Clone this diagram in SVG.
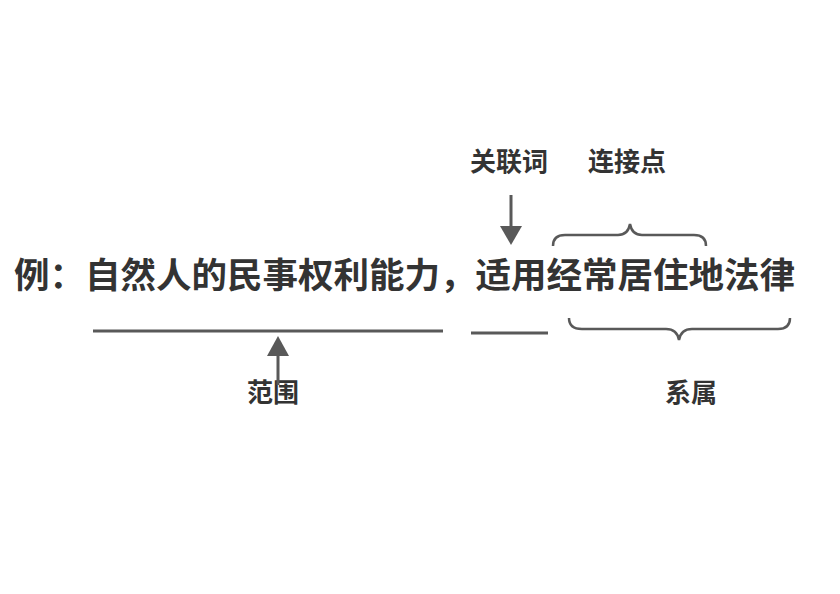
<svg xmlns="http://www.w3.org/2000/svg" width="840" height="594" viewBox="0 0 840 594">
<style>
text{font-family:"Noto Sans CJK SC","Noto Sans",sans-serif;font-weight:bold;fill:#333}
.l{stroke:#595959;stroke-width:3;fill:none}
.b{stroke:#595959;stroke-width:2.5;fill:none}
</style>
<defs><marker id="a" markerWidth="8" markerHeight="8" refX="4" refY="4" orient="auto" markerUnits="userSpaceOnUse" viewBox="0 0 8 8"><path d="M0,0L8,4L0,8z" fill="#595959"/></marker></defs>
<rect width="840" height="594" fill="#fff"/>
<g id="main"><text x="14" y="288" font-size="35" textLength="781" lengthAdjust="spacingAndGlyphs">例：自然人的民事权利能力，适用经常居住地法律</text></g>
<g id="label-guanlianci"><text x="470" y="171" font-size="26">关联词</text></g>
<g id="label-lianjiedian"><text x="588" y="171" font-size="26">连接点</text></g>
<g id="label-fanwei"><text x="247" y="402" font-size="26">范围</text></g>
<g id="label-xishu"><text x="665" y="402" font-size="26">系属</text></g>
<g id="connectors">
<line class="l" x1="93" y1="331" x2="443" y2="331"/>
<line class="l" x1="471" y1="333" x2="548" y2="333"/>
<line class="l" x1="278" y1="385" x2="278" y2="352"/>
<path d="M267,356L278,336L289,356z" fill="#595959"/>
<line class="l" x1="511" y1="195" x2="511" y2="228"/>
<path d="M500,226L511,245L522,226z" fill="#595959"/>
<path class="b" d="M553,246Q553,235 565,235L618,235Q628,235 630,224Q632,235 642,235L694,235Q706,235 706,246"/>
<path class="b" d="M569,318Q569,329 582,329L666,329Q677,329 679,340Q681,329 692,329L778,329Q790,329 790,318"/>
</g>
</svg>
